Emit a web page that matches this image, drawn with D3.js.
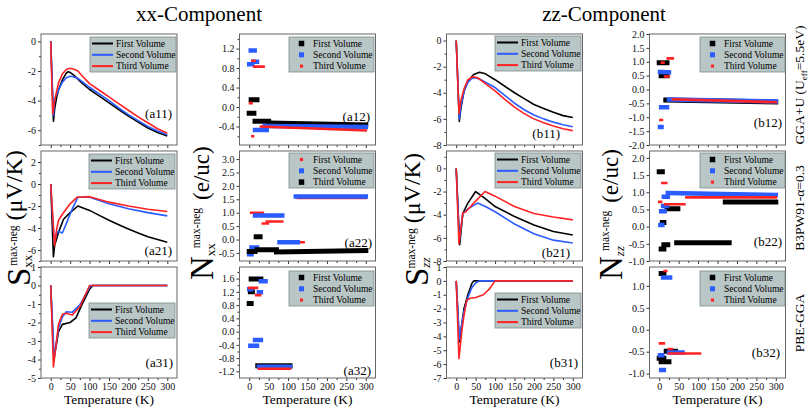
<!DOCTYPE html>
<html><head><meta charset="utf-8">
<script src="https://cdn.jsdelivr.net/npm/d3@7"></script>
<style>body{margin:0;background:#fff}</style>
</head><body>
<script>
// ---------------- DATA ----------------
const temperatureTicks = [0,50,100,150,200,250,300];
const temperatureMinor = [25,75,125,175,225,275];
const seriesNames = ["First Volume","Second Volume","Third Volume"];
const panelLabels = ["(a11)","(a21)","(a31)","(a12)","(a22)","(a32)","(b11)","(b21)","(b31)","(b12)","(b22)","(b32)"];
const methodLabels = ["GGA+U (U","B3PW91-\u03b1=0.3","PBE-GGA"];

// Seebeck S (uV/K) vs T (K): [T, S]
const a11_first  = [[0,0],[7,-5.4],[10,-4.6],[15,-3.8],[20,-3.3],[30,-2.6],[40,-2.15],[45,-2.05],[50,-2.1],[60,-2.3],[70,-2.55],[80,-2.8],[100,-3.25],[125,-3.7],[150,-4.15],[175,-4.6],[200,-5.05],[225,-5.45],[250,-5.85],[275,-6.15],[300,-6.4]];
const a11_second = [[0,0],[7,-5.0],[10,-3.9],[15,-3.6],[20,-3.3],[30,-2.75],[40,-2.45],[50,-2.35],[60,-2.4],[70,-2.5],[80,-2.7],[100,-3.1],[125,-3.55],[150,-4.0],[175,-4.5],[200,-4.95],[225,-5.35],[250,-5.75],[275,-6.05],[300,-6.3]];
const a11_third  = [[0,0],[5,-4.9],[10,-4.0],[15,-3.4],[20,-2.8],[30,-2.2],[40,-1.9],[50,-1.82],[60,-1.88],[70,-2.0],[80,-2.3],[100,-2.85],[125,-3.3],[150,-3.75],[175,-4.2],[200,-4.65],[225,-5.1],[250,-5.5],[275,-5.9],[300,-6.2]];

const a21_first  = [[0,0],[7,-6.6],[10,-5.6],[20,-4.4],[33,-3.2],[50,-2.6],[70,-2.0],[100,-2.4],[125,-2.85],[150,-3.3],[175,-3.7],[200,-4.1],[225,-4.45],[250,-4.8],[275,-5.05],[300,-5.3]];
const a21_second = [[0,0],[9,-5.3],[15,-4.5],[20,-4.3],[30,-4.45],[40,-3.6],[55,-2.3],[70,-1.2],[100,-1.2],[125,-1.5],[150,-1.8],[200,-2.25],[250,-2.6],[300,-2.9]];
const a21_third  = [[0,0],[10,-5.6],[15,-4.2],[20,-3.3],[30,-2.75],[50,-1.8],[68,-1.2],[100,-1.15],[125,-1.4],[150,-1.65],[200,-2.0],[250,-2.3],[300,-2.5]];

const a31_first  = [[0,0],[8,-4.0],[20,-2.5],[30,-2.1],[50,-2.0],[65,-1.75],[80,-1.05],[100,-0.2],[108,0],[300,0]];
const a31_second = [[0,0],[9,-3.9],[20,-2.3],[30,-1.7],[40,-1.42],[55,-1.45],[75,-1.05],[100,-0.1],[105,0],[300,0]];
const a31_third  = [[0,0],[7,-4.4],[20,-2.1],[30,-1.55],[40,-1.5],[55,-1.6],[75,-1.15],[100,0],[300,0]];

const b11_first  = [[0,0],[8,-6.2],[12,-5.2],[20,-3.9],[30,-3.1],[45,-2.6],[60,-2.43],[75,-2.55],[100,-3.0],[125,-3.5],[150,-4.0],[175,-4.45],[200,-4.9],[225,-5.2],[250,-5.5],[275,-5.75],[300,-5.9]];
const b11_second = [[0,0],[8,-6.0],[12,-5.0],[20,-3.9],[30,-3.2],[40,-2.9],[47,-2.85],[60,-2.95],[75,-3.2],[100,-3.6],[125,-4.2],[150,-4.8],[175,-5.3],[200,-5.7],[225,-6.0],[250,-6.25],[275,-6.45],[300,-6.6]];
const b11_third  = [[0,0],[7,-5.6],[12,-4.6],[20,-3.7],[30,-3.0],[43,-2.77],[55,-2.85],[75,-3.3],[100,-3.85],[125,-4.5],[150,-5.1],[175,-5.6],[200,-6.0],[225,-6.3],[250,-6.55],[275,-6.75],[300,-6.9]];

const b21_first  = [[0,0],[9,-6.6],[17,-3.9],[30,-3.0],[50,-2.0],[74,-2.6],[100,-3.3],[150,-4.15],[200,-4.9],[250,-5.45],[300,-5.75]];
const b21_second = [[0,0],[8,-6.3],[17,-3.9],[30,-3.5],[55,-3.0],[75,-3.3],[100,-3.75],[150,-4.8],[200,-5.65],[250,-6.2],[300,-6.45]];
const b21_third  = [[0,0],[7,-6.5],[17,-3.85],[25,-3.75],[45,-3.0],[74,-2.0],[100,-2.4],[150,-3.3],[200,-3.9],[250,-4.2],[300,-4.45]];

const b31_first  = [[0,0],[8,-4.4],[20,-2.0],[30,-1.0],[40,-0.2],[45,0],[300,0]];
const b31_second = [[0,0],[8,-4.2],[20,-2.2],[30,-1.2],[40,-0.5],[50,-0.15],[60,0],[300,0]];
const b31_third  = [[0,0],[7,-5.6],[15,-3.5],[20,-2.5],[27,-1.4],[35,-1.25],[50,-1.2],[70,-1.0],[85,-0.6],[100,0],[300,0]];

// Carrier N (e/uc) vs T: runs of markers [T start, T end, N start, N end]
const a12_first  = [[0,12,-0.13,-0.13],[5,20,0.15,0.15],[15,50,-0.29,-0.29],[50,300,-0.33,-0.37]];
const a12_second = [[0,8,0.88,0.88],[4,14,1.16,1.16],[11,20,0.93,0.93],[15,45,-0.47,-0.47],[40,300,-0.39,-0.41]];
const a12_third  = [[2,6,0.08,0.08],[8,14,0.95,0.95],[13,37,0.83,0.83],[8,10,-0.6,-0.6],[30,300,-0.40,-0.48]];

const a22_first  = [[0,5,-0.4,-0.4],[5,35,1.0,1.0],[35,48,0.6,0.6],[45,85,0.67,0.67],[80,140,-0.1,-0.1],[125,300,1.55,1.55]];
const a22_second = [[0,6,-0.55,-0.55],[6,20,-0.3,-0.3],[15,85,0.9,0.9],[78,125,-0.1,-0.1],[120,300,1.6,1.6]];
const a22_third  = [[0,15,-0.45,-0.45],[18,28,0.1,0.1],[20,70,-0.38,-0.38],[70,300,-0.46,-0.41]];

const a32_first  = [[0,5,0.85,0.85],[3,8,1.2,1.2],[5,30,1.59,1.59],[22,105,-1.03,-1.03]];
const a32_second = [[0,5,1.28,1.28],[3,20,-0.43,-0.43],[15,30,-0.25,-0.25],[25,30,1.19,1.19],[30,42,1.52,1.52],[25,105,-1.06,-1.06]];
const a32_third  = [[0,20,1.32,1.32],[18,28,1.1,1.1],[25,105,-1.12,-1.12]];

const b12_first  = [[0,20,0.96,0.96],[5,20,0.5,0.5],[17,300,-0.38,-0.45]];
const b12_second = [[2,8,0.63,0.63],[15,25,0.62,0.62],[5,20,-0.64,-0.64],[2,6,-1.35,-1.35],[25,300,-0.36,-0.43]];
const b12_third  = [[7,11,0.97,0.97],[15,25,0.47,0.47],[22,35,1.12,1.12],[3,7,-1.1,-1.1],[35,300,-0.35,-0.46]];

const b22_first  = [[0,8,1.6,1.6],[8,12,0.12,0.12],[5,12,-0.65,-0.65],[12,22,-0.53,-0.53],[20,48,0.52,0.52],[45,180,-0.47,-0.47],[170,300,0.72,0.72]];
const b22_second = [[3,8,0.05,0.05],[5,14,0.45,0.45],[10,20,0.6,0.6],[12,22,0.87,0.87],[22,300,0.98,0.92]];
const b22_third  = [[0,5,0.72,0.72],[8,18,1.27,1.27],[15,65,0.65,0.65],[70,300,0.85,0.85]];

const b32_first  = [[5,12,1.28,1.28],[0,12,-0.65,-0.65],[5,25,-0.73,-0.73],[18,42,-0.49,-0.49]];
const b32_second = [[10,28,1.19,1.19],[2,8,-0.58,-0.58],[5,12,-0.92,-0.92],[25,60,-0.52,-0.52]];
const b32_third  = [[14,18,1.34,1.34],[2,12,-0.31,-0.31],[25,32,-0.44,-0.44],[25,105,-0.54,-0.54]];

// ---------------- LAYOUT / STYLE ----------------
const W = 808, H = 411;
const colX = [41, 239.5, 446.5, 649.5], colW = 136;
const rowY = [34, 151, 267], rowH = [111, 110, 111];
const FONT = "'Liberation Serif','Times New Roman',serif";
const styles = {
  black: {color:"#000000", size:5},
  blue:  {color:"#2a5cff", size:4.5},
  red:   {color:"#ff2222", size:2.6}
};
const lineColors = ["black","blue","red"];

const panels = [
 {col:0,row:0,kind:"line",y:[-7,0.5],t:[0,-2,-4,-6],m:[-1,-3,-5,-7],d:0,s:[a11_first,a11_second,a11_third],c:lineColors,leg:[90,37],lab:[172,118]},
 {col:0,row:1,kind:"line",y:[-7,3],t:[2,0,-2,-4,-6],m:[1,-1,-3,-5,-7],d:0,s:[a21_first,a21_second,a21_third],c:lineColors,leg:[89,154],lab:[172,255]},
 {col:0,row:2,kind:"line",y:[-5,1],t:[1,0,-1,-2,-3,-4,-5],m:[0.5,-0.5,-1.5,-2.5,-3.5,-4.5],d:0,s:[a31_first,a31_second,a31_third],c:lineColors,leg:[89,303],lab:[173,367]},
 {col:1,row:0,kind:"scatter",y:[-0.78,1.5],t:[1.2,0.8,0.4,0.0,-0.4],m:[1.4,1.0,0.6,0.2,-0.2,-0.6],d:1,s:[a12_first,a12_second,a12_third],c:["black","blue","red"],leg:[289,37],lab:[370,121]},
 {col:1,row:1,kind:"scatter",y:[-0.8,3.3],t:[3.0,2.5,2.0,1.5,1.0,0.5,0.0,-0.5],m:[],d:1,s:[a22_first,a22_second,a22_third],c:["red","blue","black"],leg:[289,153],lab:[372,247]},
 {col:1,row:2,kind:"scatter",y:[-1.4,1.95],t:[1.6,1.2,0.8,0.4,0.0,-0.4,-0.8,-1.2],m:[1.8,1.4,1.0,0.6,0.2,-0.2,-0.6,-1.0],d:1,s:[a32_first,a32_second,a32_third],c:["black","blue","red"],leg:[289,271],lab:[371,375]},
 {col:2,row:0,kind:"line",y:[-8,0.5],t:[0,-2,-4,-6,-8],m:[-1,-3,-5,-7],d:0,s:[b11_first,b11_second,b11_third],c:lineColors,leg:[495,36],lab:[560,138]},
 {col:2,row:1,kind:"line",y:[-8,1.5],t:[0,-2,-4,-6,-8],m:[1,-1,-3,-5,-7],d:0,s:[b21_first,b21_second,b21_third],c:lineColors,leg:[495,153],lab:[570,257]},
 {col:2,row:2,kind:"line",y:[-7,1],t:[1,0,-1,-2,-3,-4,-5,-6,-7],m:[],d:0,s:[b31_first,b31_second,b31_third],c:lineColors,leg:[495,293],lab:[578,367]},
 {col:3,row:0,kind:"scatter",y:[-2,2],t:[2,1.5,1,0.5,0,-0.5,-1,-1.5,-2],m:[],d:1,s:[b12_first,b12_second,b12_third],c:["black","blue","red"],leg:[700,37],lab:[782,127]},
 {col:3,row:1,kind:"scatter",y:[-1,2.2],t:[2,1.5,1,0.5,0,-0.5,-1],m:[],d:1,s:[b22_first,b22_second,b22_third],c:["black","blue","red"],leg:[700,153],lab:[782,246]},
 {col:3,row:2,kind:"scatter",y:[-1.1,1.43],t:[1,0.5,0,-0.5,-1],m:[],d:1,s:[b32_first,b32_second,b32_third],c:["black","blue","red"],leg:[700,271],lab:[780,357]}
];

// ---------------- DRAW ----------------
const svg = d3.select("body").append("svg").attr("width",W).attr("height",H)
  .style("font-family",FONT);

panels.forEach((p,i)=>{
  const x0 = colX[p.col], y0 = rowY[p.row], h = rowH[p.row];
  const x = d3.scaleLinear().domain([-25,325]).range([x0, x0+colW]);
  const y = d3.scaleLinear().domain(p.y).range([y0+h, y0]);
  const g = svg.append("g");
  const cid = "clip"+i;
  svg.append("clipPath").attr("id",cid).append("rect")
    .attr("x",x0).attr("y",y0).attr("width",colW).attr("height",h);

  const yAx = d3.axisLeft(y).tickValues(p.t).tickSize(3).tickPadding(2)
    .tickFormat(v=> p.d ? d3.format(".1f")(v).replace("\u2212","-") : String(v));
  g.append("g").attr("transform",`translate(${x0},0)`).call(yAx);
  g.append("g").attr("transform",`translate(${x0},0)`)
    .call(d3.axisLeft(y).tickValues(p.m).tickSize(2).tickFormat(""));
  const xAx = d3.axisBottom(x).tickValues(temperatureTicks).tickSize(3).tickPadding(2)
    .tickFormat(p.row===2 ? d3.format("d") : "");
  g.append("g").attr("transform",`translate(0,${y0+h})`).call(xAx);
  g.append("g").attr("transform",`translate(0,${y0+h})`)
    .call(d3.axisBottom(x).tickValues(temperatureMinor).tickSize(2).tickFormat(""));
  g.selectAll(".domain").remove();
  g.selectAll(".tick line").attr("stroke","#333");
  g.selectAll(".tick text").attr("font-family",FONT).attr("font-size",10).attr("fill","#111");

  const plot = g.append("g").attr("clip-path",`url(#${cid})`);
  if (p.kind==="line") {
    const line = d3.line().x(d=>x(d[0])).y(d=>y(d[1]));
    p.s.forEach((ser,k)=>{
      plot.append("path").datum(ser).attr("d",line).attr("fill","none")
        .attr("stroke",styles[p.c[k]].color).attr("stroke-width",1.6)
        .attr("stroke-linejoin","round");
    });
  } else {
    p.s.forEach((ser,k)=>{
      const st = styles[p.c[k]];
      plot.selectAll(null).data(ser).enter().append("line")
        .attr("x1",d=>x(d[0])).attr("x2",d=>x(d[1]))
        .attr("y1",d=>y(d[2])).attr("y2",d=>y(d[3]))
        .attr("stroke",st.color).attr("stroke-width",st.size)
        .attr("stroke-linecap","square");
    });
  }
  g.append("rect").attr("x",x0).attr("y",y0).attr("width",colW).attr("height",h)
    .attr("fill","none").attr("stroke","#666").attr("stroke-width",1);

  const lg = g.append("g").attr("transform",`translate(${p.leg[0]},${p.leg[1]})`);
  const lw = p.kind==="line" ? 86 : 85, lh = 35;
  lg.append("rect").attr("width",lw).attr("height",lh)
    .attr("fill","#b9c6c6").attr("stroke","#7d8a8a").attr("stroke-width",0.8);
  seriesNames.forEach((nm,k)=>{
    const st = styles[p.c[k]], yy = 6.5 + k*11.3;
    if (p.kind==="line") {
      lg.append("line").attr("x1",2).attr("x2",23).attr("y1",yy).attr("y2",yy)
        .attr("stroke",st.color).attr("stroke-width",2);
      lg.append("text").attr("x",26).attr("y",yy+3.3).attr("font-size",9.5).text(nm);
    } else {
      const s = st.size + 0.5;
      lg.append("rect").attr("x",12.5-s/2).attr("y",yy-s/2).attr("width",s).attr("height",s)
        .attr("fill",st.color);
      lg.append("text").attr("x",24).attr("y",yy+3.3).attr("font-size",9.5).text(nm);
    }
  });
  g.append("text").attr("x",p.lab[0]).attr("y",p.lab[1]).attr("text-anchor","end")
    .attr("font-size",13).text(panelLabels[p.col*3+p.row]);
});

[0,1,2,3].forEach(c=>{
  svg.append("text").attr("x",colX[c]+colW/2).attr("y",404).attr("text-anchor","middle")
    .attr("font-size",13.5).text("Temperature (K)");
});
svg.append("text").attr("x",199).attr("y",21).attr("text-anchor","middle").attr("font-size",21).text("xx-Component");
svg.append("text").attr("x",604).attr("y",21).attr("text-anchor","middle").attr("font-size",21).text("zz-Component");

// rotated y titles: main letter, subscript, superscript, unit
function yTitle(xb, yb, main, mainSize, sub, sup, supDx, unit, unitSize, unitDx, unitDy, italic) {
  const t = svg.append("g").attr("transform",`translate(${xb},${yb}) rotate(-90)`)
    .append("text").attr("x",0).attr("y",0);
  t.append("tspan").attr("font-size",mainSize).text(main);
  t.append("tspan").attr("font-size",13).attr("dy",2).attr("font-style",italic?"italic":"normal").text(sub);
  t.append("tspan").attr("font-size",11.5).attr("dx",supDx).attr("dy",-15).text(sup);
  t.append("tspan").attr("font-size",unitSize).attr("dx",unitDx).attr("dy",unitDy).text(unit);
}
yTitle(30, 286, "S", 33, "xx", "max-neg", -11, "(\u03bcV/K)", 24, 5, 5, false);
yTitle(213, 280, "N", 33, "xx", "max-neg", -5, "(e/uc)", 23, 8, 9, false);
yTitle(428, 286, "S", 33, "zz", "max-neg", -11, "(\u03bcV/K)", 24, 5, 5, true);
yTitle(622, 280, "N", 33, "zz", "max-neg", -5, "(e/uc)", 23, 8, 9, true);

// method labels on right
const m1 = svg.append("g").attr("transform","translate(804,85) rotate(-90)")
  .append("text").attr("text-anchor","middle").attr("font-size",13.5);
m1.append("tspan").text(methodLabels[0]);
m1.append("tspan").attr("font-size",9).attr("dy",3).text("eff");
m1.append("tspan").attr("dy",-3).text("=5.5eV)");
svg.append("g").attr("transform","translate(804,208) rotate(-90)")
  .append("text").attr("text-anchor","middle").attr("font-size",13.5).text(methodLabels[1]);
svg.append("g").attr("transform","translate(804,323) rotate(-90)")
  .append("text").attr("text-anchor","middle").attr("font-size",13.5).text(methodLabels[2]);
</script>
</body></html>
